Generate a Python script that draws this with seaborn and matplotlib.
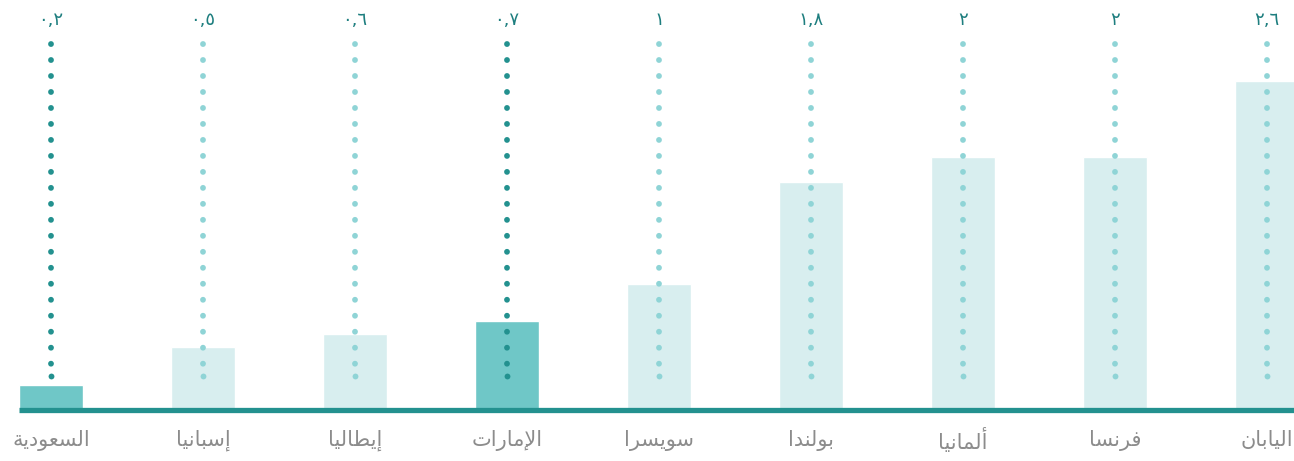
import matplotlib

matplotlib.use("Agg")
import matplotlib.pyplot as plt
import pandas as pd
import seaborn as sns

# data, left to right
countries = ["السعودية", "إسبانيا", "إيطاليا", "الإمارات", "سويسرا", "بولندا", "ألمانيا", "فرنسا", "اليابان"]
values = [0.2, 0.5, 0.6, 0.7, 1, 1.8, 2, 2, 2.6]
highlight = [True, False, False, True, False, False, False, False, False]

BAR_HI, BAR_LO = "#6fc7c7", "#d8eeef"
DOT_HI, DOT_LO = "#23918f", "#8fd4d6"
BASE = "#23918f"
LABEL_TEAL = "#1e7e7f"
LABEL_GREY = "#8c8c8c"

# matplotlib has no arabic shaping, so pick presentation forms by hand
FORMS = {
    "ا": ("\ufe8d", "\ufe8e"), "أ": ("\ufe83", "\ufe84"), "إ": ("\ufe87", "\ufe88"),
    "ة": ("\ufe93", "\ufe94"), "د": ("\ufea9", "\ufeaa"), "ر": ("\ufead", "\ufeae"),
    "و": ("\ufeed", "\ufeee"),
    "ب": ("\ufe8f", "\ufe90", "\ufe91", "\ufe92"), "ت": ("\ufe95", "\ufe96", "\ufe97", "\ufe98"),
    "س": ("\ufeb1", "\ufeb2", "\ufeb3", "\ufeb4"), "ط": ("\ufec1", "\ufec2", "\ufec3", "\ufec4"),
    "ع": ("\ufec9", "\ufeca", "\ufecb", "\ufecc"), "ف": ("\ufed1", "\ufed2", "\ufed3", "\ufed4"),
    "ل": ("\ufedd", "\ufede", "\ufedf", "\ufee0"), "م": ("\ufee1", "\ufee2", "\ufee3", "\ufee4"),
    "ن": ("\ufee5", "\ufee6", "\ufee7", "\ufee8"), "ي": ("\ufef1", "\ufef2", "\ufef3", "\ufef4"),
}
LAM_ALEF = {"ا": ("\ufefb", "\ufefc"), "أ": ("\ufef7", "\ufef8"), "إ": ("\ufef9", "\ufefa")}


def shape(word):
    units = []
    i = 0
    while i < len(word):
        ch = word[i]
        if ch == "ل" and i + 1 < len(word) and word[i + 1] in LAM_ALEF:
            units.append(LAM_ALEF[word[i + 1]])
            i += 2
        else:
            units.append(FORMS[ch])
            i += 1
    out = []
    for k, f in enumerate(units):
        prev = k > 0 and len(units[k - 1]) == 4
        nxt = k < len(units) - 1 and len(f) == 4
        if prev and nxt:
            out.append(f[3])
        elif prev:
            out.append(f[1])
        elif nxt:
            out.append(f[2])
        else:
            out.append(f[0])
    return "".join(reversed(out))


def arabic_num(v):
    s = f"{v:g}".replace(".", ",")
    return s.translate(str.maketrans("0123456789", "٠١٢٣٤٥٦٧٨٩"))


df = pd.DataFrame({"country": countries, "value": values, "hi": highlight})

sns.set_style("white")
plt.rcParams["font.family"] = ["DejaVu Sans"]

fig = plt.figure(figsize=(12.94, 4.61), dpi=100)
ax = fig.add_axes([0, 0, 1, 1])

sns.barplot(
    data=df,
    x="country",
    y="value",
    hue="country",
    palette=[BAR_HI if h else BAR_LO for h in highlight],
    width=0.42,
    legend=False,
    saturation=1,
    ax=ax,
)

# dotted guides from the top down into each bar, with a closing dot at the end
for i, h in enumerate(highlight):
    c = DOT_HI if h else DOT_LO
    ax.plot(
        [i, i],
        [2.893, 0.269],
        color=c,
        linewidth=4.2,
        linestyle=(0, (0.01, 2.73)),
        dash_capstyle="round",
        marker="o",
        markevery=[1],
        markersize=4.2,
        markeredgewidth=0,
        markerfacecolor=c,
        zorder=3,
    )
    ax.text(i, 3.08, arabic_num(values[i]), ha="center", va="center",
            fontsize=13, color=LABEL_TEAL)
    ax.text(i, -0.24, shape(countries[i]), ha="center", va="center",
            fontsize=15, color=LABEL_GREY)

ax.hlines(0, -0.21, 8.6, color=BASE, linewidth=3.8, zorder=4)

ax.set_xlim(-51 / 152, 1243 / 152)
ax.set_ylim(-51 / 126.5, 410 / 126.5)
ax.set_axis_off()

fig.savefig("out.png", dpi=100)
